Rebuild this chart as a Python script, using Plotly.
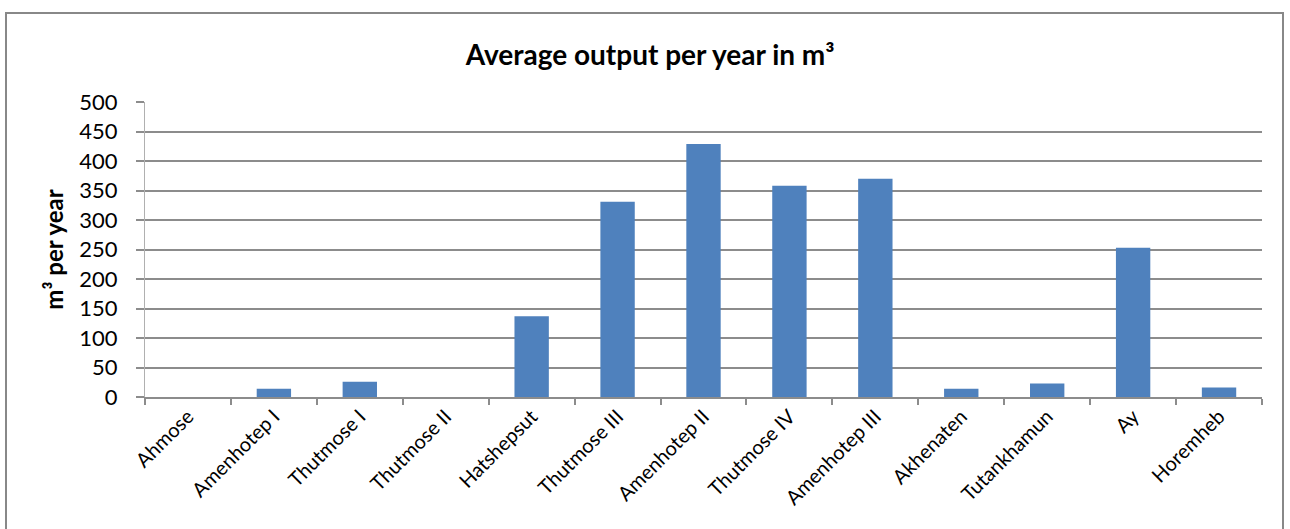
import plotly.graph_objects as go

pharaohs = ["Ahmose", "Amenhotep I", "Thutmose I", "Thutmose II", "Hatshepsut",
            "Thutmose III", "Amenhotep II", "Thutmose IV", "Amenhotep III",
            "Akhenaten", "Tutankhamun", "Ay", "Horemheb"]
output_m3 = [0, 14, 26, 0, 137, 331, 429, 358, 370, 14, 23, 253, 16]
y_ticks = list(range(0, 501, 50))

FONT = "Lato"
GRID = "#8c8c8c"

fig = go.Figure()
fig.add_trace(go.Bar(
    x=pharaohs, y=output_m3,
    marker=dict(color="#4f81bd", line=dict(width=0)),
))

fig.update_layout(
    width=1290, height=529,
    margin=dict(l=145, r=28, t=102, b=132),
    paper_bgcolor="white", plot_bgcolor="white",
    showlegend=False,
    bargap=0.6,
    font=dict(family=FONT, color="black"),
    title=dict(text="<b>Average output per year in m³</b>",
               x=0.504, xanchor="center", y=1 - 55 / 529, yanchor="middle",
               font=dict(size=28, family=FONT, color="black")),
    xaxis=dict(
        tickangle=-45, tickfont=dict(size=20, family=FONT),
        showline=True, linecolor=GRID, linewidth=2,
        ticks="outside", tickson="boundaries", ticklen=6, tickcolor=GRID, tickwidth=2,
        ticklabelstandoff=-2,
        showgrid=False,
    ),
    yaxis=dict(
        range=[0, 500], tickvals=y_ticks,
        tickfont=dict(size=22, family=FONT),
        showline=True, linecolor="#b0b0b0", linewidth=1,
        ticks="outside", ticklen=8, tickcolor=GRID, tickwidth=2,
        ticklabelstandoff=14,
        showgrid=True, gridcolor=GRID, gridwidth=2,
        zeroline=False,
        title=dict(text="<b>m³ per year</b>", font=dict(size=24, family=FONT), standoff=8),
    ),
    shapes=[dict(type="rect", xref="paper", yref="paper",
                 x0=-139 / 1117, x1=1 + 21 / 1117, y0=-140 / 295, y1=1 + 89 / 295,
                 line=dict(color="#888888", width=2), fillcolor="rgba(0,0,0,0)", layer="below")],
)

fig.write_html("out.html")
